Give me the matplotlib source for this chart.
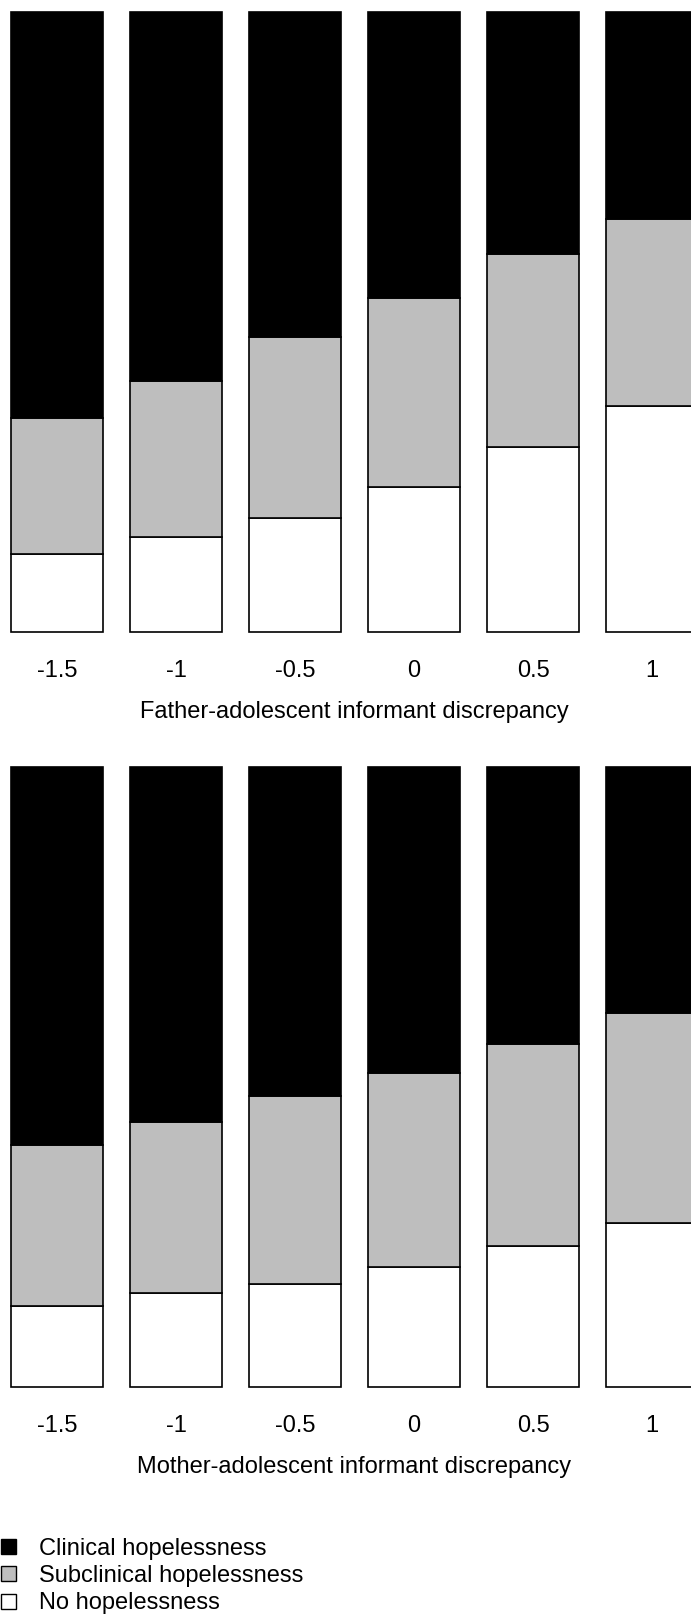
import numpy as np
import matplotlib
matplotlib.use("Agg")
import matplotlib.pyplot as plt
from matplotlib.patches import Patch

plt.rcParams['font.family'] = ['Liberation Sans', 'DejaVu Sans']

# predicted proportion in each hopelessness category by informant discrepancy
discrepancy = ["-1.5", "-1", "-0.5", "0", "0.5", "1"]

father_none = [0.126, 0.154, 0.184, 0.234, 0.299, 0.365]
father_sub = [0.219, 0.252, 0.292, 0.306, 0.312, 0.301]
father_clin = [0.655, 0.594, 0.524, 0.460, 0.389, 0.334]

mother_none = [0.131, 0.151, 0.166, 0.193, 0.228, 0.264]
mother_sub = [0.259, 0.276, 0.304, 0.314, 0.326, 0.339]
mother_clin = [0.610, 0.573, 0.530, 0.493, 0.446, 0.397]

categories = ["Clinical hopelessness", "Subclinical hopelessness", "No hopelessness"]
colors = ["black", "#bebebe", "white"]

W, H = 691, 1614
fs = 17
fig = plt.figure(figsize=(W / 100, H / 100), dpi=100)

# bar pitch in pixels; the last bar runs off the right edge
pitch = 119.0
x0 = -0.385 - 11.3 / pitch
x1 = x0 + W / pitch
width = 0.77


def panel(top_px, bottom_px, none, sub, clin, xlabel):
    ax = fig.add_axes([0, 1 - bottom_px / H, 1, (bottom_px - top_px) / H])
    x = np.arange(len(discrepancy))
    kw = dict(width=width, edgecolor="black", linewidth=1.2, clip_on=False)
    ax.bar(x, none, color=colors[2], **kw)
    ax.bar(x, sub, bottom=none, color=colors[1], **kw)
    ax.bar(x, clin, bottom=np.add(none, sub), color=colors[0], **kw)
    ax.set_xlim(x0, x1)
    ax.set_ylim(0, 1)
    ax.axis("off")
    for xi, lab in zip(x, discrepancy):
        ax.text(xi, -39 / (bottom_px - top_px), lab, ha="center", va="center",
                fontsize=fs, transform=ax.get_xaxis_transform())
    fig.text(0.5 * (569 + 140) / W, 1 - (bottom_px + 80) / H, xlabel,
             ha="center", va="center", fontsize=fs)
    return ax


panel(12.4, 632.3, father_none, father_sub, father_clin,
      "Father-adolescent informant discrepancy")
panel(767.2, 1387.1, mother_none, mother_sub, mother_clin,
      "Mother-adolescent informant discrepancy")

handles = [Patch(facecolor=c, edgecolor="black", linewidth=1.0) for c in colors]
fig.legend(handles, categories, loc="upper left",
           bbox_to_anchor=(0.002, 1 - 1538 / H), frameon=False, fontsize=fs,
           handlelength=0.6, handleheight=0.6, handletextpad=1.0,
           labelspacing=0.22, borderpad=0, borderaxespad=0)

fig.savefig("out.png", dpi=100)
